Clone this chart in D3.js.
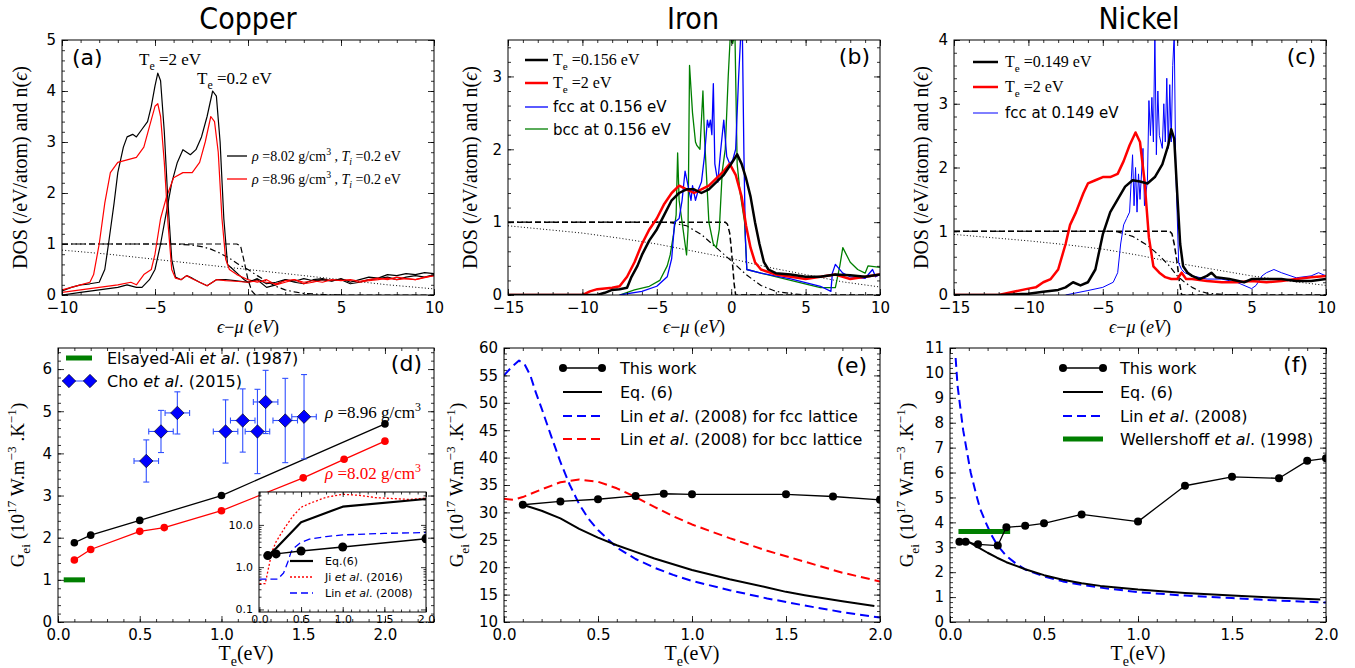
<!DOCTYPE html>
<meta charset="utf-8">
<script src="https://d3js.org/d3.v7.min.js"></script>
<style>
body { margin: 0; background: #fff; }
</style>
<div id="fig"></div>
<script>

// ---------- (a) Copper DOS
var cuBlack2 = [[-10,0.08],[-9.5,0.15],[-9,0.2],[-8.5,0.22],[-8,0.25],[-7.7,0.5],[-7.5,1.0],[-7.2,1.8],[-7.0,2.4],[-6.7,2.9],[-6.5,3.1],[-6.2,3.15],[-6.0,3.1],[-5.7,3.25],[-5.4,3.4],[-5.2,3.7],[-5.0,4.1],[-4.85,4.35],[-4.7,4.2],[-4.5,3.2],[-4.3,1.8],[-4.1,0.7],[-3.9,0.35],[-3.6,0.3],[-3.3,0.38],[-3.0,0.33],[-2.6,0.25],[-2.2,0.18],[-1.7,0.3],[-1.2,0.3],[-0.7,0.28],[0,0.25],[0.5,0.32],[1,0.22],[1.5,0.25],[2,0.3],[2.5,0.27],[3,0.32],[3.5,0.28],[4,0.3],[4.5,0.27],[5,0.32],[5.5,0.25],[6,0.3],[6.5,0.35],[7,0.33],[7.5,0.4],[8,0.38],[8.5,0.42],[9,0.4],[9.5,0.44],[10,0.42]];
var cuRed2 = [[-10,0.1],[-9.5,0.15],[-9,0.2],[-8.5,0.25],[-8.3,0.4],[-8.0,1.0],[-7.7,1.8],[-7.4,2.4],[-7.0,2.6],[-6.5,2.65],[-6.0,2.7],[-5.6,2.9],[-5.3,3.3],[-5.0,3.7],[-4.85,3.75],[-4.7,3.5],[-4.5,2.6],[-4.3,1.4],[-4.1,0.5],[-3.9,0.33],[-3.6,0.3],[-3.3,0.38],[-3.0,0.32],[-2.6,0.25],[-2.2,0.18],[-1.7,0.3],[-1.2,0.28],[-0.7,0.27],[0,0.25],[0.5,0.28],[1,0.25],[1.5,0.22],[2,0.28],[2.5,0.3],[3,0.25],[3.5,0.28],[4,0.25],[4.5,0.3],[5,0.28],[5.5,0.3],[6,0.27],[6.5,0.3],[7,0.33],[7.5,0.3],[8,0.35],[8.5,0.32],[9,0.3],[9.5,0.35],[10,0.38]];
var cuBlack02 = [[-10,0.0],[-9,0.05],[-8,0.1],[-7,0.15],[-6.5,0.2],[-6,0.15],[-5.7,0.15],[-5.3,0.3],[-5.0,0.5],[-4.7,1.0],[-4.4,1.6],[-4.1,2.2],[-3.8,2.6],[-3.5,2.85],[-3.1,2.75],[-2.8,2.85],[-2.5,3.1],[-2.2,3.5],[-1.9,4.0],[-1.7,3.9],[-1.5,3.0],[-1.3,1.5],[-1.1,0.6],[-0.8,0.5],[-0.5,0.4],[-0.2,0.3],[0,0.25],[0.5,0.3],[1,0.15],[1.5,0.2],[2,0.3],[2.5,0.25],[3,0.22],[3.5,0.3],[4,0.32],[4.5,0.28],[5,0.3],[5.5,0.22],[6,0.25],[6.5,0.3],[7,0.32],[7.5,0.35],[8,0.3],[8.5,0.35],[9,0.38],[9.5,0.35],[10,0.4]];
var cuRed02 = [[-10,0.05],[-9,0.1],[-8,0.15],[-7,0.2],[-6.3,0.25],[-6,0.2],[-5.6,0.4],[-5.2,0.5],[-5.0,0.8],[-4.7,1.5],[-4.4,1.9],[-4.0,2.3],[-3.5,2.4],[-3.0,2.4],[-2.6,2.6],[-2.3,3.0],[-2.0,3.5],[-1.8,3.4],[-1.6,2.8],[-1.4,1.5],[-1.2,0.7],[-1.0,0.5],[-0.6,0.4],[0,0.3],[0.5,0.25],[1,0.3],[1.5,0.2],[2,0.25],[2.5,0.3],[3,0.22],[3.5,0.25],[4,0.3],[4.5,0.28],[5,0.3],[5.5,0.28],[6,0.25],[6.5,0.28],[7,0.3],[7.5,0.33],[8,0.3],[8.5,0.32],[9,0.3],[9.5,0.34],[10,0.38]];
var cuDash = [[-10,1],[-0.6,1],[-0.4,0.96],[-0.2,0.65],[0,0.3],[0.2,0.08],[0.4,0],[10,0]];
var cuDashDot = [[-10,1],[-4,1],[-3,0.98],[-2.5,0.95],[-2,0.9],[-1.5,0.82],[-1,0.72],[-0.5,0.6],[0,0.5],[0.5,0.38],[1,0.27],[1.5,0.17],[2,0.1],[2.5,0.06],[3,0.03],[4,0.01],[5,0]];
var cuDot = [[-10,0.88],[-7.5,0.8],[-5,0.7],[-2.5,0.6],[0,0.5],[2.5,0.4],[5,0.3],[7.5,0.2],[10,0.12]];

// ---------- (b) Iron DOS
var feBlack = [[-15,0],[-9,0],[-8.5,0.03],[-8,0.07],[-7.5,0.08],[-7,0.1],[-6.7,0.25],[-6.3,0.4],[-6,0.55],[-5.5,0.75],[-5,0.9],[-4.5,1.1],[-4,1.3],[-3.5,1.4],[-3,1.45],[-2.5,1.45],[-2,1.4],[-1.5,1.45],[-1,1.55],[-0.5,1.65],[0,1.8],[0.4,1.93],[0.7,1.8],[1.0,1.6],[1.3,1.35],[1.6,1.0],[1.9,0.7],[2.2,0.45],[2.5,0.35],[3,0.3],[4,0.28],[5,0.25],[6,0.25],[7,0.28],[8,0.27],[9,0.25],[10,0.28]];
var feRed = [[-15,0],[-10,0],[-9.5,0.05],[-9,0.08],[-8.5,0.09],[-8,0.1],[-7.5,0.12],[-7,0.25],[-6.5,0.45],[-6,0.7],[-5.5,0.9],[-5,1.05],[-4.5,1.25],[-4,1.4],[-3.5,1.5],[-3,1.45],[-2.5,1.4],[-2,1.45],[-1.5,1.5],[-1,1.6],[-0.5,1.7],[-0.1,1.8],[0.3,1.65],[0.7,1.35],[1.0,0.95],[1.3,0.65],[1.6,0.45],[2,0.35],[3,0.28],[4,0.25],[5,0.22],[6,0.25],[7,0.28],[8,0.22],[9,0.25],[10,0.28]];
var feFcc = [[-7.5,0],[-6,0.05],[-5,0.12],[-4.3,0.25],[-4.0,0.5],[-3.8,1.0],[-3.5,1.05],[-3.3,1.3],[-3.1,1.7],[-2.9,1.5],[-2.7,1.3],[-2.6,1.5],[-2.4,1.3],[-2.2,1.45],[-2.0,1.55],[-1.8,1.9],[-1.6,2.4],[-1.5,2.3],[-1.4,2.4],[-1.3,2.2],[-1.2,2.9],[-1.1,1.8],[-0.9,1.55],[-0.7,2.0],[-0.5,2.4],[-0.3,1.9],[-0.1,1.8],[0.1,1.85],[0.3,2.0],[0.5,3.0],[0.65,3.6],[0.75,3.6],[0.85,2.0],[0.95,0.8],[1.05,0.35],[2,0.3],[4,0.22],[6,0.12],[6.7,0.05],[6.8,0.3],[7.0,0.42],[7.5,0.3],[8,0.25],[9,0.23],[9.5,0.35],[9.7,0.25],[10,0.28]];
var feBcc = [[-7.5,0],[-6.5,0.07],[-5.5,0.12],[-4.8,0.2],[-4.3,0.4],[-4.1,0.55],[-3.9,0.8],[-3.7,1.1],[-3.6,1.95],[-3.5,1.3],[-3.3,1.0],[-3.1,0.7],[-3.0,0.55],[-2.9,0.9],[-2.8,3.15],[-2.6,2.5],[-2.4,2.1],[-2.3,2.05],[-2.1,2.0],[-1.9,2.8],[-1.8,2.2],[-1.5,1.0],[-1.2,0.7],[-1.0,0.65],[-0.8,0.9],[-0.6,1.7],[-0.4,2.0],[-0.2,3.0],[-0.05,3.6],[0.1,3.45],[0.25,3.6],[0.4,1.8],[0.6,1.4],[0.9,1.0],[1.05,0.35],[2,0.3],[4,0.2],[6,0.1],[7.0,0.1],[7.3,0.4],[7.5,0.65],[8,0.45],[8.5,0.35],[9,0.3],[9.2,0.4],[10,0.38]];
var feDash = [[-15,1],[-0.4,1],[-0.25,0.97],[-0.1,0.85],[0,0.65],[0.1,0.4],[0.2,0.15],[0.3,0],[10,0]];
var feDashDot = [[-15,1],[-4.5,1],[-4,0.99],[-3,0.95],[-2,0.83],[-1,0.65],[0,0.47],[1,0.28],[2,0.13],[3,0.05],[4,0.02],[5,0]];
var feDot = [[-15,0.95],[-12.5,0.9],[-10,0.85],[-7.5,0.78],[-5,0.7],[-2.5,0.6],[0,0.5],[2.5,0.38],[5,0.28],[7.5,0.18],[10,0.11]];

// ---------- (c) Nickel DOS
var niBlack = [[-15,0],[-12,0],[-10,0.02],[-9,0.05],[-8,0.08],[-7.5,0.12],[-7,0.2],[-6.5,0.15],[-6,0.2],[-5.5,0.4],[-5.0,0.95],[-4.5,1.3],[-4,1.5],[-3.5,1.7],[-3,1.8],[-2.5,1.78],[-2,1.75],[-1.5,1.85],[-1,2.05],[-0.6,2.35],[-0.4,2.6],[-0.2,2.45],[0,1.6],[0.2,0.8],[0.4,0.45],[0.7,0.35],[1,0.3],[1.5,0.25],[2,0.3],[2.3,0.35],[2.6,0.28],[3.5,0.25],[4.5,0.2],[5,0.25],[6,0.25],[7,0.25],[8,0.22],[9,0.22],[10,0.25]];
var niRed = [[-15,0],[-12,0],[-11,0.05],[-10,0.1],[-9.5,0.12],[-9,0.2],[-8.5,0.25],[-8,0.4],[-7.5,0.8],[-7.2,1.1],[-6.8,1.3],[-6.3,1.6],[-6,1.75],[-5.5,1.8],[-5,1.85],[-4.5,1.85],[-4,1.9],[-3.6,2.1],[-3.2,2.35],[-2.8,2.55],[-2.5,2.4],[-2.2,1.8],[-1.9,0.9],[-1.6,0.45],[-1.2,0.35],[-0.8,0.28],[-0.4,0.25],[0,0.25],[0.3,0.35],[0.6,0.25],[1,0.25],[2,0.22],[3,0.2],[4,0.2],[5,0.22],[6,0.2],[7,0.22],[8,0.25],[9,0.28],[10,0.3]];
var niFcc = [[-7.5,0],[-6,0.07],[-5,0.12],[-4.3,0.2],[-4,0.35],[-3.8,0.8],[-3.6,1.1],[-3.4,1.2],[-3.2,1.3],[-3.0,2.2],[-2.9,1.4],[-2.8,2.0],[-2.7,1.3],[-2.6,1.9],[-2.5,1.5],[-2.3,2.3],[-2.2,1.4],[-2.0,1.8],[-1.9,3.05],[-1.8,2.5],[-1.7,3.1],[-1.6,2.4],[-1.5,4.1],[-1.4,2.2],[-1.3,3.2],[-1.2,2.5],[-1.0,2.3],[-0.9,3.0],[-0.8,2.4],[-0.7,3.4],[-0.6,2.3],[-0.5,3.3],[-0.4,2.4],[-0.3,3.6],[-0.2,4.1],[-0.1,2.0],[0.1,0.5],[0.3,0.4],[0.5,0.35],[1,0.3],[2,0.25],[3,0.25],[4,0.2],[5,0.1],[5.3,0.15],[5.7,0.3],[6,0.35],[6.5,0.4],[7,0.35],[8,0.27],[9,0.3],[9.5,0.35],[10,0.3]];
var niDash = [[-15,1],[-0.5,1],[-0.35,0.96],[-0.2,0.8],[0,0.5],[0.15,0.2],[0.3,0],[10,0]];
var niDashDot = [[-15,1],[-4.5,1],[-4,0.99],[-3,0.92],[-2,0.78],[-1.5,0.68],[-1,0.57],[-0.5,0.45],[0,0.3],[0.5,0.2],[1,0.12],[1.5,0.06],[2,0.03],[3,0.01],[4,0]];
var niDot = [[-15,0.95],[-12.5,0.9],[-10,0.85],[-7.5,0.79],[-5,0.72],[-2.5,0.62],[0,0.5],[2.5,0.4],[5,0.3],[7.5,0.22],[10,0.15]];

// ---------- (d) Copper G_ei
var cuTe896 = [0.1,0.2,0.5,1.0,2.0];
var cuG896 = [1.88,2.06,2.41,3.0,4.7];
var cuTe802 = [0.1,0.2,0.5,0.65,1.0,1.5,1.75,2.0];
var cuG802 = [1.47,1.72,2.15,2.24,2.64,3.42,3.86,4.29];
var choTe = [0.54,0.63,0.73,1.025,1.13,1.22,1.27,1.39,1.505];
var choG = [3.82,4.52,4.96,4.52,4.78,4.52,5.22,4.78,4.87];
var choGerr = [0.5,0.5,0.5,0.75,0.75,1.0,0.75,1.0,1.0];
var choTeErr = [0.075,0.075,0.075,0.075,0.075,0.075,0.075,0.075,0.075];
var elsayed = [[0.035,1],[0.165,1]];
// inset (log scale)
var insetEq6 = [[0.1,1.85],[0.2,2.8],[0.5,11.5],[1.0,27],[2.0,41]];
var insetJi = [[0.0,0.41],[0.07,0.41],[0.1,0.78],[0.15,2.3],[0.2,4.0],[0.3,8.3],[0.4,16],[0.5,26],[0.6,32],[0.8,45],[1.0,53],[1.2,50],[1.4,44],[1.6,42],[1.8,40],[2.0,43]];
var insetLin = [[0.0,0.52],[0.22,0.52],[0.29,0.73],[0.34,1.3],[0.38,2.3],[0.43,3.0],[0.485,3.7],[0.6,4.6],[0.8,5.3],[1.0,5.8],[1.5,6.3],[2.0,6.6]];

// ---------- (e) Iron G_ei
var feTe = [0.1,0.3,0.5,0.7,0.85,1.0,1.5,1.75,2.0];
var feG = [31.4,32.0,32.4,33.0,33.4,33.3,33.3,32.9,32.3];
var feEq6 = [[0.1,31.4],[0.2,30.3],[0.3,28.9],[0.4,27.0],[0.5,25.4],[0.6,24.0],[0.7,22.8],[0.8,21.6],[1.0,19.5],[1.2,17.8],[1.4,16.3],[1.5,15.5],[1.6,14.9],[1.8,13.8],[1.97,12.9]];
var feLinFcc = [[0.0,55.0],[0.04,56.5],[0.08,57.7],[0.11,57.0],[0.14,55.0],[0.17,51.8],[0.2,49.0],[0.25,44.0],[0.3,39.2],[0.35,35.0],[0.4,31.5],[0.45,28.8],[0.5,26.8],[0.6,23.6],[0.7,21.5],[0.8,19.9],[0.9,18.6],[1.0,17.5],[1.2,15.8],[1.4,14.3],[1.6,13.0],[1.8,11.8],[2.0,10.8]];
var feLinBcc = [[0.0,32.5],[0.05,32.3],[0.1,32.8],[0.2,34.2],[0.3,35.5],[0.4,36.0],[0.5,35.6],[0.6,34.4],[0.7,32.8],[0.8,31.0],[0.9,29.3],[1.0,27.8],[1.2,25.3],[1.4,23.0],[1.6,21.0],[1.8,19.0],[2.0,17.4]];

// ---------- (f) Nickel G_ei
var niTe = [0.05,0.083,0.149,0.254,0.3,0.4,0.5,0.7,1.0,1.25,1.5,1.75,1.9,2.0];
var niG = [3.22,3.22,3.12,3.07,3.8,3.86,3.96,4.32,4.03,5.47,5.83,5.77,6.47,6.57];
var niEq6 = [[0.1,3.22],[0.15,3.0],[0.2,2.78],[0.25,2.58],[0.3,2.4],[0.4,2.12],[0.5,1.88],[0.6,1.7],[0.7,1.56],[0.8,1.45],[1.0,1.3],[1.25,1.16],[1.5,1.06],[1.75,0.97],[1.97,0.9]];
var niLin = [[0.03,10.6],[0.04,9.5],[0.055,8.6],[0.07,7.7],[0.09,6.85],[0.11,6.0],[0.14,5.1],[0.16,4.55],[0.19,4.0],[0.22,3.5],[0.25,3.1],[0.3,2.65],[0.35,2.35],[0.4,2.11],[0.5,1.83],[0.6,1.63],[0.7,1.49],[0.8,1.38],[1.0,1.2],[1.25,1.06],[1.5,0.96],[1.75,0.86],[2.0,0.78]];
var wellershoff = [[0.045,3.63],[0.32,3.63]];

var SANS = "DejaVu Sans, sans-serif";
var SERIF = "Liberation Serif, DejaVu Serif, serif";
var GREEN = "#007f00";

var svg = d3.select("#fig").append("svg")
  .attr("width", 1355).attr("height", 668)
  .style("font-family", SANS);

var clipN = 0;

function panel(box, xd, yd, log) {
  var x = d3.scaleLinear().domain(xd).range([box[0], box[1]]);
  var y = (log ? d3.scaleLog() : d3.scaleLinear()).domain(yd).range([box[3], box[2]]);
  var g = svg.append("g");
  var id = "clip" + (clipN++);
  g.append("clipPath").attr("id", id).append("rect")
    .attr("x", box[0]).attr("y", box[2])
    .attr("width", box[1] - box[0]).attr("height", box[3] - box[2]);
  var plot = g.append("g").attr("clip-path", "url(#" + id + ")");
  return {x: x, y: y, g: g, plot: plot, box: box};
}

function range(a, b, s) {
  var out = [];
  for (var i = 0; a + i * s <= b + 1e-9; i++) out.push(+(a + i * s).toFixed(4));
  return out;
}

// frame + inward ticks on all four sides
function frame(p, xt, xm, yt, ym, xf, yf, fs, big, small, xpad) {
  var b = p.box;
  fs = fs || 15; big = big || 6; small = small || 3;
  function put(axis, tr, vals, size, fmt, pad) {
    var a = p.g.append("g").attr("transform", tr)
      .call(axis.tickValues(vals).tickSizeInner(-size).tickSizeOuter(0).tickPadding(fmt ? pad : 0)
        .tickFormat(fmt || ""));
    a.select(".domain").remove();
    a.selectAll("line").attr("stroke", "#000").attr("stroke-width", 0.8);
    a.selectAll("text").attr("font-size", fs).attr("font-family", SANS).attr("fill", "#000");
    return a;
  }
  put(d3.axisBottom(p.x), "translate(0," + b[3] + ")", xt, big, xf, xpad == null ? 7 : xpad);
  put(d3.axisBottom(p.x), "translate(0," + b[3] + ")", xm, small, null);
  put(d3.axisTop(p.x), "translate(0," + b[2] + ")", xt, big, null);
  put(d3.axisTop(p.x), "translate(0," + b[2] + ")", xm, small, null);
  put(d3.axisLeft(p.y), "translate(" + b[0] + ",0)", yt, big, yf, 6);
  put(d3.axisLeft(p.y), "translate(" + b[0] + ",0)", ym, small, null);
  put(d3.axisRight(p.y), "translate(" + b[1] + ",0)", yt, big, null);
  put(d3.axisRight(p.y), "translate(" + b[1] + ",0)", ym, small, null);
  p.g.append("rect").attr("x", b[0]).attr("y", b[2])
    .attr("width", b[1] - b[0]).attr("height", b[3] - b[2])
    .attr("fill", "none").attr("stroke", "#000").attr("stroke-width", 1);
}

function curve(p, data, color, width, dash) {
  return p.plot.append("path").datum(data)
    .attr("fill", "none").attr("stroke", color).attr("stroke-width", width)
    .attr("stroke-dasharray", dash || null)
    .attr("stroke-linejoin", "round")
    .attr("d", d3.line().x(function(d) { return p.x(d[0]); }).y(function(d) { return p.y(d[1]); }));
}

function dots(p, xs, ys, r, color) {
  p.plot.append("g").selectAll("circle").data(xs).enter().append("circle")
    .attr("cx", function(d) { return p.x(d); })
    .attr("cy", function(d, i) { return p.y(ys[i]); })
    .attr("r", r).attr("fill", color);
}

function zip(xs, ys) { return xs.map(function(d, i) { return [d, ys[i]]; }); }

// text with sub / superscripts
function rich(g, x, y, parts, size, family, anchor, color) {
  var t = g.append("text").attr("x", x).attr("y", y)
    .attr("font-size", size).attr("font-family", family)
    .attr("text-anchor", anchor || "start").attr("fill", color || "#000");
  var shift = 0;
  parts.forEach(function(s) {
    if (typeof s === "string") s = {t: s};
    var target = s.sub ? size * 0.3 : s.sup ? -size * 0.42 : 0;
    var ts = t.append("tspan").attr("dy", target - shift).text(s.t);
    if (s.sub || s.sup) ts.attr("font-size", size * 0.7);
    if (s.it) ts.attr("font-style", "italic");
    if (s.ff) ts.attr("font-family", s.ff);
    shift = target;
  });
  return t;
}

function label(g, x, y, txt, size, anchor) {
  g.append("text").attr("x", x).attr("y", y).attr("font-size", size)
    .attr("font-family", SANS).attr("text-anchor", anchor || "start").text(txt);
}

function legLine(g, x1, x2, y, color, width, dash) {
  g.append("line").attr("x1", x1).attr("x2", x2).attr("y1", y).attr("y2", y)
    .attr("stroke", color).attr("stroke-width", width).attr("stroke-dasharray", dash || null);
}

var DASH = "6,3", DASHDOT = "6,3,1.5,3", DOT = "1,2.2";
var fmtInt = d3.format("d"), fmt1 = d3.format(".1f");

// titles
svg.append("text").attr("x", 248).attr("y", 29).attr("text-anchor", "middle")
  .attr("font-size", 30).attr("font-family", "DejaVu Sans Condensed, DejaVu Sans").text("Copper");
svg.append("text").attr("x", 693).attr("y", 29).attr("text-anchor", "middle")
  .attr("font-size", 30).attr("font-family", "DejaVu Sans Condensed, DejaVu Sans").text("Iron");
svg.append("text").attr("x", 1139).attr("y", 29).attr("text-anchor", "middle")
  .attr("font-size", 30).attr("font-family", "DejaVu Sans Condensed, DejaVu Sans").text("Nickel");

function dosLabels(p, cx) {
  var b = p.box;
  rich(svg, (b[0] + b[1]) / 2, 333, [{t: "ϵ", it: 1}, "−", {t: "μ", it: 1}, " (", {t: "eV", it: 1}, ")"], 18, SERIF, "middle");
  var g = svg.append("g").attr("transform", "translate(" + cx + "," + ((b[2] + b[3]) / 2) + ") rotate(-90)");
  rich(g, 0, 0, ["DOS (/eV/atom) and n(", {t: "ϵ", it: 1}, ")"], 20, SERIF, "middle");
}
function gLabels(p, cx) {
  var b = p.box;
  rich(svg, (b[0] + b[1]) / 2, 660, ["T", {t: "e", sub: 1}, "(eV)"], 20, SERIF, "middle");
  var g = svg.append("g").attr("transform", "translate(" + cx + "," + ((b[2] + b[3]) / 2) + ") rotate(-90)");
  rich(g, 0, 0, ["G", {t: "ei", sub: 1}, " (10", {t: "17", sup: 1}, " W.m", {t: "−3", sup: 1}, " .K", {t: "−1", sup: 1}, ")"], 19, SERIF, "middle");
}

// ================= (a)
var pa = panel([62, 434, 40, 295], [-10, 10], [0, 5]);
curve(pa, cuDot, "#000", 1, DOT);
curve(pa, cuDashDot, "#000", 1.2, DASHDOT);
curve(pa, cuDash, "#000", 1.2, DASH);
curve(pa, cuBlack02, "#000", 1.2);
curve(pa, cuRed02, "#f00", 1.2);
curve(pa, cuBlack2, "#000", 1.2);
curve(pa, cuRed2, "#f00", 1.2);
frame(pa, range(-10, 10, 5), range(-10, 10, 1), range(0, 5, 1), range(0, 5, 0.2), fmtInt, fmtInt);
dosLabels(pa, 27);
label(svg, 72, 65, "(a)", 22);
rich(svg, 139, 65, ["T", {t: "e", sub: 1}, " =2 eV"], 17, SERIF);
rich(svg, 197, 84, ["T", {t: "e", sub: 1}, " =0.2 eV"], 17, SERIF);
legLine(svg, 227, 247, 156, "#000", 1.3);
legLine(svg, 227, 247, 179, "#f00", 1.3);
rich(svg, 252, 161, [{t: "ρ", it: 1}, " =8.02 g/cm", {t: "3", sup: 1}, " , ", {t: "T", it: 1}, {t: "i", sub: 1, it: 1}, " =0.2 eV"], 14, SERIF);
rich(svg, 252, 184, [{t: "ρ", it: 1}, " =8.96 g/cm", {t: "3", sup: 1}, " , ", {t: "T", it: 1}, {t: "i", sub: 1, it: 1}, " =0.2 eV"], 14, SERIF);

// ================= (b)
var pb = panel([508, 880, 40, 295], [-15, 10], [0, 3.5]);
curve(pb, feDot, "#000", 1, DOT);
curve(pb, feDashDot, "#000", 1.2, DASHDOT);
curve(pb, feDash, "#000", 1.5, DASH);
curve(pb, feBcc, GREEN, 1.3);
curve(pb, feFcc, "#0000ff", 1.3);
curve(pb, feRed, "#f00", 2.5);
curve(pb, feBlack, "#000", 2.5);
frame(pb, range(-15, 10, 5), range(-15, 10, 1), range(0, 3, 1), range(0, 3.4, 0.2), fmtInt, fmtInt);
dosLabels(pb, 477);
label(svg, 870, 64, "(b)", 22, "end");
legLine(svg, 525, 548, 60, "#000", 2.5);
legLine(svg, 525, 548, 83, "#f00", 2.5);
legLine(svg, 525, 548, 107, "#0000ff", 1.3);
legLine(svg, 525, 548, 129, GREEN, 1.3);
rich(svg, 553, 65, ["T", {t: "e", sub: 1}, " =0.156 eV"], 16, SERIF);
rich(svg, 553, 88, ["T", {t: "e", sub: 1}, " =2 eV"], 16, SERIF);
label(svg, 553, 112, "fcc at 0.156 eV", 15);
label(svg, 553, 135, "bcc at 0.156 eV", 15);

// ================= (c)
var pc = panel([954, 1326, 40, 295], [-15, 10], [0, 4]);
curve(pc, niDot, "#000", 1, DOT);
curve(pc, niDashDot, "#000", 1.2, DASHDOT);
curve(pc, niDash, "#000", 1.5, DASH);
curve(pc, niFcc, "#0000ff", 1);
curve(pc, niRed, "#f00", 2.5);
curve(pc, niBlack, "#000", 2.5);
frame(pc, range(-15, 10, 5), range(-15, 10, 1), range(0, 4, 1), range(0, 4, 0.2), fmtInt, fmtInt);
dosLabels(pc, 928);
label(svg, 1316, 64, "(c)", 22, "end");
legLine(svg, 973, 998, 62, "#000", 2.5);
legLine(svg, 973, 998, 87, "#f00", 2.5);
legLine(svg, 973, 998, 113, "#0000ff", 1);
rich(svg, 1005, 67, ["T", {t: "e", sub: 1}, " =0.149 eV"], 16, SERIF);
rich(svg, 1005, 92, ["T", {t: "e", sub: 1}, " =2 eV"], 16, SERIF);
label(svg, 1005, 118, "fcc at 0.149 eV", 15);

// ================= (d)
var pd = panel([58, 434, 348, 622], [0, 2.3], [0, 6.5]);
curve(pd, zip(cuTe896, cuG896), "#000", 1.3);
dots(pd, cuTe896, cuG896, 3.8, "#000");
curve(pd, zip(cuTe802, cuG802), "#f00", 1.3);
dots(pd, cuTe802, cuG802, 3.8, "#f00");
curve(pd, elsayed, GREEN, 5);
// Cho et al. error bars + diamonds
var cho = pd.plot.append("g");
choTe.forEach(function(t, i) {
  var cx = pd.x(t), cy = pd.y(choG[i]);
  var y1 = pd.y(choG[i] - choGerr[i]), y2 = pd.y(choG[i] + choGerr[i]);
  var x1 = pd.x(t - choTeErr[i]), x2 = pd.x(t + choTeErr[i]);
  cho.append("line").attr("x1", cx).attr("x2", cx).attr("y1", y1).attr("y2", y2).attr("stroke", "#3050ff").attr("stroke-width", 1.1);
  cho.append("line").attr("x1", x1).attr("x2", x2).attr("y1", cy).attr("y2", cy).attr("stroke", "#3050ff").attr("stroke-width", 1.1);
  [y1, y2].forEach(function(yy) {
    cho.append("line").attr("x1", cx - 3).attr("x2", cx + 3).attr("y1", yy).attr("y2", yy).attr("stroke", "#3050ff").attr("stroke-width", 1.1);
  });
  [x1, x2].forEach(function(xx) {
    cho.append("line").attr("x1", xx).attr("x2", xx).attr("y1", cy - 3).attr("y2", cy + 3).attr("stroke", "#3050ff").attr("stroke-width", 1.1);
  });
  cho.append("path").attr("d", d3.symbol(d3.symbolSquare, 90)())
    .attr("transform", "translate(" + cx + "," + cy + ") rotate(45)")
    .attr("fill", "#0000ff").attr("stroke", "#000").attr("stroke-width", 0.6);
});
frame(pd, range(0, 2, 0.5), range(0, 2.3, 0.1), range(0, 6, 1), range(0, 6.4, 0.2), fmt1, fmtInt);
gLabels(pd, 24);
label(svg, 422, 371, "(d)", 22, "end");
legLine(svg, 66, 92, 358, GREEN, 5);
legLine(svg, 62, 97, 381, "#3050ff", 1.1);
[69, 90].forEach(function(lx) {
  svg.append("line").attr("x1", lx).attr("x2", lx).attr("y1", 375).attr("y2", 387).attr("stroke", "#3050ff").attr("stroke-width", 1.1);
  svg.append("path").attr("d", d3.symbol(d3.symbolSquare, 90)())
    .attr("transform", "translate(" + lx + ",381) rotate(45)")
    .attr("fill", "#0000ff").attr("stroke", "#000").attr("stroke-width", 0.6);
});
rich(svg, 107, 364, ["Elsayed-Ali ", {t: "et al", it: 1}, ". (1987)"], 16, SANS);
rich(svg, 107, 387, ["Cho ", {t: "et al", it: 1}, ". (2015)"], 16, SANS);
rich(svg, 325, 418, [{t: "ρ", it: 1}, " =8.96 g/cm", {t: "3", sup: 1}], 17, SERIF);
rich(svg, 325, 479, [{t: "ρ", it: 1}, " =8.02 g/cm", {t: "3", sup: 1}], 17, SERIF, "start", "#f00");

// inset
svg.append("rect").attr("x", 259).attr("y", 492).attr("width", 167).attr("height", 120).attr("fill", "#fff");
var pi = panel([259, 426, 492, 612], [-0.005, 2.0], [0.087, 60], true);
curve(pi, insetJi, "#f00", 1.3, "2,2");
curve(pi, insetLin, "#0000ff", 1.3, "7,4");
curve(pi, insetEq6, "#000", 2.2);
curve(pi, zip(cuTe896, cuG896), "#000", 1.3);
dots(pi, cuTe896, cuG896, 4.5, "#000");
var logMinor = [0.2,0.3,0.4,0.5,0.6,0.7,0.8,0.9,2,3,4,5,6,7,8,9,20,30,40,50];
frame(pi, range(0, 2, 0.5), range(0, 2, 0.1), [0.1, 1, 10], logMinor, fmt1, fmt1, 11, 5, 2.5, 3);
pi.g.selectAll("text").attr("font-size", 11);
legLine(svg, 290, 313, 561, "#000", 2.2);
legLine(svg, 290, 313, 577, "#f00", 1.3, "2,2");
legLine(svg, 290, 313, 593, "#0000ff", 1.3, "7,4");
rich(svg, 325, 565, ["Eq.(6)"], 11, SANS);
rich(svg, 325, 581, ["Ji ", {t: "et al", it: 1}, ". (2016)"], 11, SANS);
rich(svg, 325, 597, ["Lin ", {t: "et al", it: 1}, ". (2008)"], 11, SANS);

// ================= (e)
var pe = panel([504, 880, 348, 622], [0, 2], [10, 60]);
curve(pe, feLinBcc, "#f00", 2, "9,5");
curve(pe, feLinFcc, "#0000ff", 2, "9,5");
curve(pe, feEq6, "#000", 2);
curve(pe, zip(feTe, feG), "#000", 1.3);
dots(pe, feTe, feG, 4, "#000");
frame(pe, range(0, 2, 0.5), range(0, 2, 0.1), range(10, 60, 5), range(10, 60, 1), fmt1, fmtInt);
gLabels(pe, 463);
label(svg, 867, 373, "(e)", 22, "end");
legLine(svg, 563, 602, 368, "#000", 1.3);
svg.append("circle").attr("cx", 563).attr("cy", 368).attr("r", 4);
svg.append("circle").attr("cx", 602).attr("cy", 368).attr("r", 4);
legLine(svg, 563, 602, 392, "#000", 2);
legLine(svg, 563, 602, 416, "#0000ff", 2, "9,5");
legLine(svg, 563, 602, 439, "#f00", 2, "9,5");
label(svg, 620, 374, "This work", 16);
label(svg, 620, 398, "Eq. (6)", 16);
rich(svg, 620, 422, ["Lin ", {t: "et al", it: 1}, ". (2008) for fcc lattice"], 16, SANS);
rich(svg, 620, 445, ["Lin ", {t: "et al", it: 1}, ". (2008) for bcc lattice"], 16, SANS);

// ================= (f)
var pf = panel([950, 1326, 348, 622], [0, 2], [0, 11]);
curve(pf, niLin, "#0000ff", 2, "9,5");
curve(pf, niEq6, "#000", 2);
curve(pf, wellershoff, GREEN, 5);
curve(pf, zip(niTe, niG), "#000", 1.3);
dots(pf, niTe, niG, 4, "#000");
frame(pf, range(0, 2, 0.5), range(0, 2, 0.1), range(0, 11, 1), range(0, 11, 0.2), fmt1, fmtInt);
gLabels(pf, 913);
label(svg, 1308, 372, "(f)", 22, "end");
legLine(svg, 1063, 1103, 368, "#000", 1.3);
svg.append("circle").attr("cx", 1063).attr("cy", 368).attr("r", 4);
svg.append("circle").attr("cx", 1103).attr("cy", 368).attr("r", 4);
legLine(svg, 1063, 1103, 392, "#000", 2);
legLine(svg, 1063, 1103, 416, "#0000ff", 2, "9,5");
legLine(svg, 1063, 1103, 439, GREEN, 5);
label(svg, 1120, 374, "This work", 16);
label(svg, 1120, 398, "Eq. (6)", 16);
rich(svg, 1120, 422, ["Lin ", {t: "et al", it: 1}, ". (2008)"], 16, SANS);
rich(svg, 1120, 445, ["Wellershoff ", {t: "et al", it: 1}, ". (1998)"], 16, SANS);

</script>
